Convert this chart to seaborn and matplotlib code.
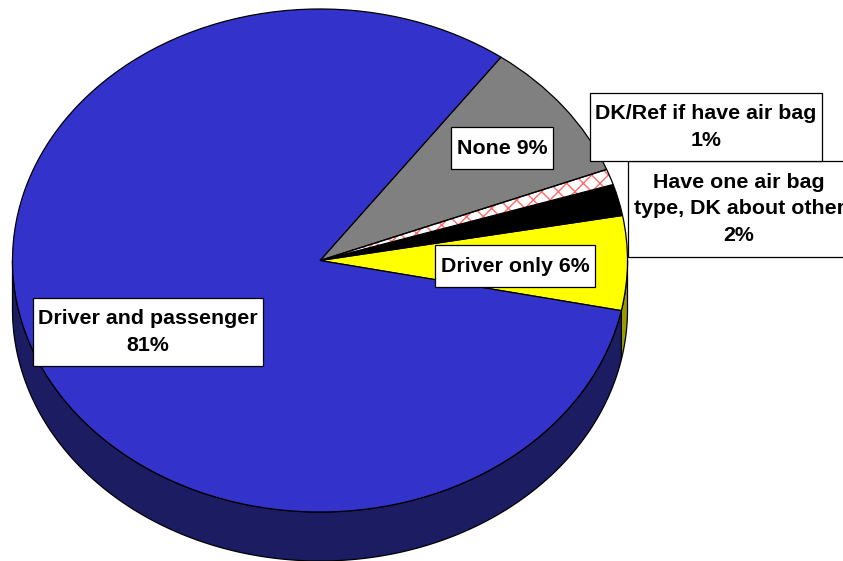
import numpy as np
import matplotlib
matplotlib.use("Agg")
import matplotlib.pyplot as plt
import seaborn as sns
from matplotlib.patches import Polygon, Wedge, Rectangle

# slices listed counter-clockwise, starting just below the 3 o'clock position
categories = ["Driver only", "Have one air bag type, DK about other",
              "DK/Ref if have air bag", "None", "Driver and passenger"]
shares = [6, 2, 1, 9, 81]
label_texts = ["Driver only 6%",
               "Have one air bag\ntype, DK about other\n2%",
               "DK/Ref if have air bag\n1%",
               "None 9%",
               "Driver and passenger\n81%"]

top_colors = ["#FFFF00", "#000000", "#FFFFFF", "#808080", "#3333CC"]
side_colors = ["#999900", "#000000", "#B0B0B0", "#4D4D4D", "#1C1C63"]
# label box centres in pixels (x from left, y from top)
label_px = [(515, 266), (739, 209), (706, 127), (502, 148), (148, 332)]

W, H = 843, 561
cx, cy, rx, ry, depth = 320, 260.5, 307.5, 251.5, 49

sns.set_style("white")
plt.rcParams["font.family"] = ["Liberation Sans", "DejaVu Sans"]
plt.rcParams["hatch.linewidth"] = 1.0

fig = plt.figure(figsize=(W / 100, H / 100), dpi=100)
ax = fig.add_axes([0, 0, 1, 1])

wedges, _ = ax.pie(
    shares,
    startangle=-11.5,
    colors=top_colors,
    wedgeprops=dict(edgecolor="black", linewidth=0.9),
)

# cross-hatched slice: red hatch on white, black outline drawn on top
hw = wedges[2]
hw.set_hatch("xx")
hw.set_edgecolor("#FF6A6A")
hw.set_linewidth(0)
ax.add_patch(Wedge((0, 0), 1, hw.theta1, hw.theta2, fill=False,
                   edgecolor="black", linewidth=0.9, zorder=2))

# side wall of the 3D pie (front half only)
d = depth / ry
for w, col in zip(wedges, side_colors):
    t1, t2 = w.theta1, w.theta2
    for k in (-360, 0, 360):
        lo, hi = max(t1, 180 + k), min(t2, 360 + k)
        if hi <= lo:
            continue
        t = np.radians(np.linspace(lo, hi, 200))
        top = np.column_stack([np.cos(t), np.sin(t)])
        bot = np.column_stack([np.cos(t[::-1]), np.sin(t[::-1]) - d])
        ax.add_patch(Polygon(np.vstack([top, bot]), closed=True, facecolor=col,
                             edgecolor="black", linewidth=0.9, zorder=0.5))

ax.set_aspect("auto")
ax.set_xlim(-cx / rx, (W - cx) / rx)
ax.set_ylim(-(H - cy) / ry, cy / ry)
ax.axis("off")

texts = []
for (px, py), txt in zip(label_px, label_texts):
    texts.append(fig.text(px / W, 1 - py / H, txt, ha="center", va="center",
                          fontsize=15.4, fontweight="bold", color="black",
                          linespacing=1.52, zorder=5))

# white label boxes, padded a bit more vertically than horizontally
fig.canvas.draw()
r = fig.canvas.get_renderer()
for t in texts:
    bb = t.get_window_extent(renderer=r)
    x0, y0 = bb.x0 - 5.5, bb.y0 - 11.5
    fig.add_artist(Rectangle((x0 / W, y0 / H), (bb.width + 11) / W,
                             (bb.height + 23) / H, transform=fig.transFigure,
                             facecolor="white", edgecolor="black",
                             linewidth=0.9, zorder=4))

fig.savefig("out.png", dpi=100)
